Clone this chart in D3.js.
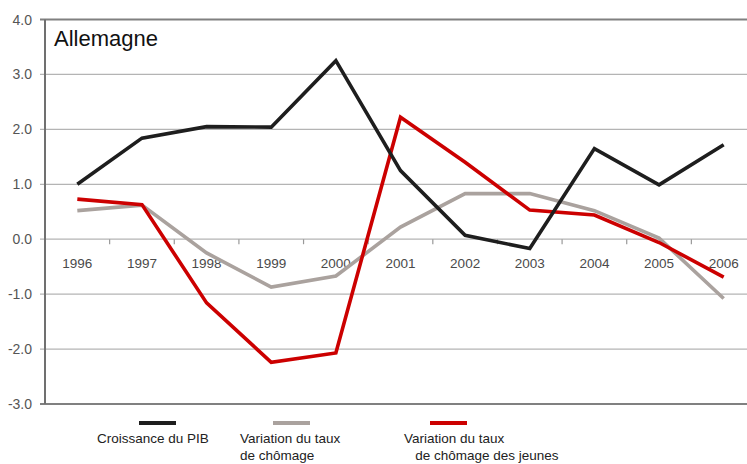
<!DOCTYPE html>
<html><head><meta charset="utf-8">
<script src="https://cdn.jsdelivr.net/npm/d3@7"></script>
<style>body{margin:0;background:#fff;}svg{display:block;}</style>
</head><body>
<svg id="chart" width="747" height="464"></svg>
<script>
const years = ["1996","1997","1998","1999","2000","2001","2002","2003","2004","2005","2006"];
const pib = [1.0, 1.84, 2.05, 2.04, 3.25, 1.25, 0.07, -0.17, 1.65, 0.99, 1.72];
const chomage = [0.52, 0.62, -0.25, -0.87, -0.67, 0.22, 0.83, 0.83, 0.52, 0.02, -1.08];
const jeunes = [0.73, 0.63, -1.16, -2.24, -2.07, 2.22, 1.40, 0.53, 0.44, -0.06, -0.69];
const yTicks = [4, 3, 2, 1, 0, -1, -2, -3];
const title = "Allemagne";
const legendItems = [
  {lines:["Croissance du PIB"], color:"#1e1e1e"},
  {lines:["Variation du taux","de chômage"], color:"#aaa29e"},
  {lines:["Variation du taux","   de chômage des jeunes"], color:"#cc0000"}
];

const svg = d3.select("#chart");
const mLeft = 45, mRight = 756, mTop = 19.5, mBottom = 404;
const x = d3.scaleBand().domain(years).range([mLeft, mRight]).padding(0);
const y = d3.scaleLinear().domain([-3, 4]).range([mBottom, mTop]);
const cx = d => x(d) + x.bandwidth()/2;
const fmt = d => d.toFixed(1);

// gridlines
svg.append("g").selectAll("line").data(yTicks).join("line")
  .attr("x1", mLeft - 5).attr("x2", 747)
  .attr("y1", d => y(d)).attr("y2", d => y(d))
  .attr("stroke", d => (d === 4 || d === -3) ? "#808080" : "#b4b4b4")
  .attr("stroke-width", d => (d === 4 || d === -3) ? 2 : 1.3);

// y axis line
svg.append("line").attr("x1", mLeft).attr("x2", mLeft).attr("y1", y(4)).attr("y2", y(-3))
  .attr("stroke", "#707070").attr("stroke-width", 2);

// y labels
svg.append("g").selectAll("text").data(yTicks).join("text")
  .attr("x", 32).attr("y", d => y(d) + 5)
  .attr("text-anchor", "end")
  .attr("font-family", "Liberation Sans, Arial, sans-serif")
  .attr("font-size", 14).attr("fill", "#555")
  .text(fmt);

// x tick marks at zero line
svg.append("g").selectAll("line").data(years.slice(1)).join("line")
  .attr("x1", d => x(d)).attr("x2", d => x(d))
  .attr("y1", y(0)).attr("y2", y(0) + 5)
  .attr("stroke", "#999").attr("stroke-width", 1.2);

// x labels
svg.append("g").selectAll("text").data(years).join("text")
  .attr("x", d => cx(d)).attr("y", y(0) + 29)
  .attr("text-anchor", "middle")
  .attr("font-family", "Liberation Sans, Arial, sans-serif")
  .attr("font-size", 13.5).attr("fill", "#4a4a4a")
  .text(d => d);

// lines
const line = d3.line().x((d,i) => cx(years[i])).y(d => y(d));
[[chomage, "#aaa29e"], [jeunes, "#cc0000"], [pib, "#1e1e1e"]].forEach(([data, col]) => {
  svg.append("path").datum(data).attr("d", line)
    .attr("fill", "none").attr("stroke", col).attr("stroke-width", 3.6)
    .attr("stroke-linejoin", "miter");
});

// title
svg.append("text").attr("x", 54).attr("y", 46)
  .attr("font-family", "Liberation Sans, Arial, sans-serif")
  .attr("font-size", 22).attr("fill", "#111").text(title);

// legend
const legX = [97, 240, 404];
const segX = [139, 273, 430];
legendItems.forEach((it, i) => {
  svg.append("line").attr("x1", segX[i]).attr("x2", segX[i] + 37)
    .attr("y1", 423).attr("y2", 423)
    .attr("stroke", it.color).attr("stroke-width", 4);
  const t = svg.append("text").attr("x", legX[i]).attr("y", 443)
    .attr("font-family", "Liberation Sans, Arial, sans-serif")
    .attr("font-size", 13.5).attr("fill", "#222")
    .style("white-space", "pre");
  it.lines.forEach((l, j) => {
    t.append("tspan").attr("x", legX[i]).attr("y", 443 + j*16.5).text(l);
  });
});
</script>
</body></html>
